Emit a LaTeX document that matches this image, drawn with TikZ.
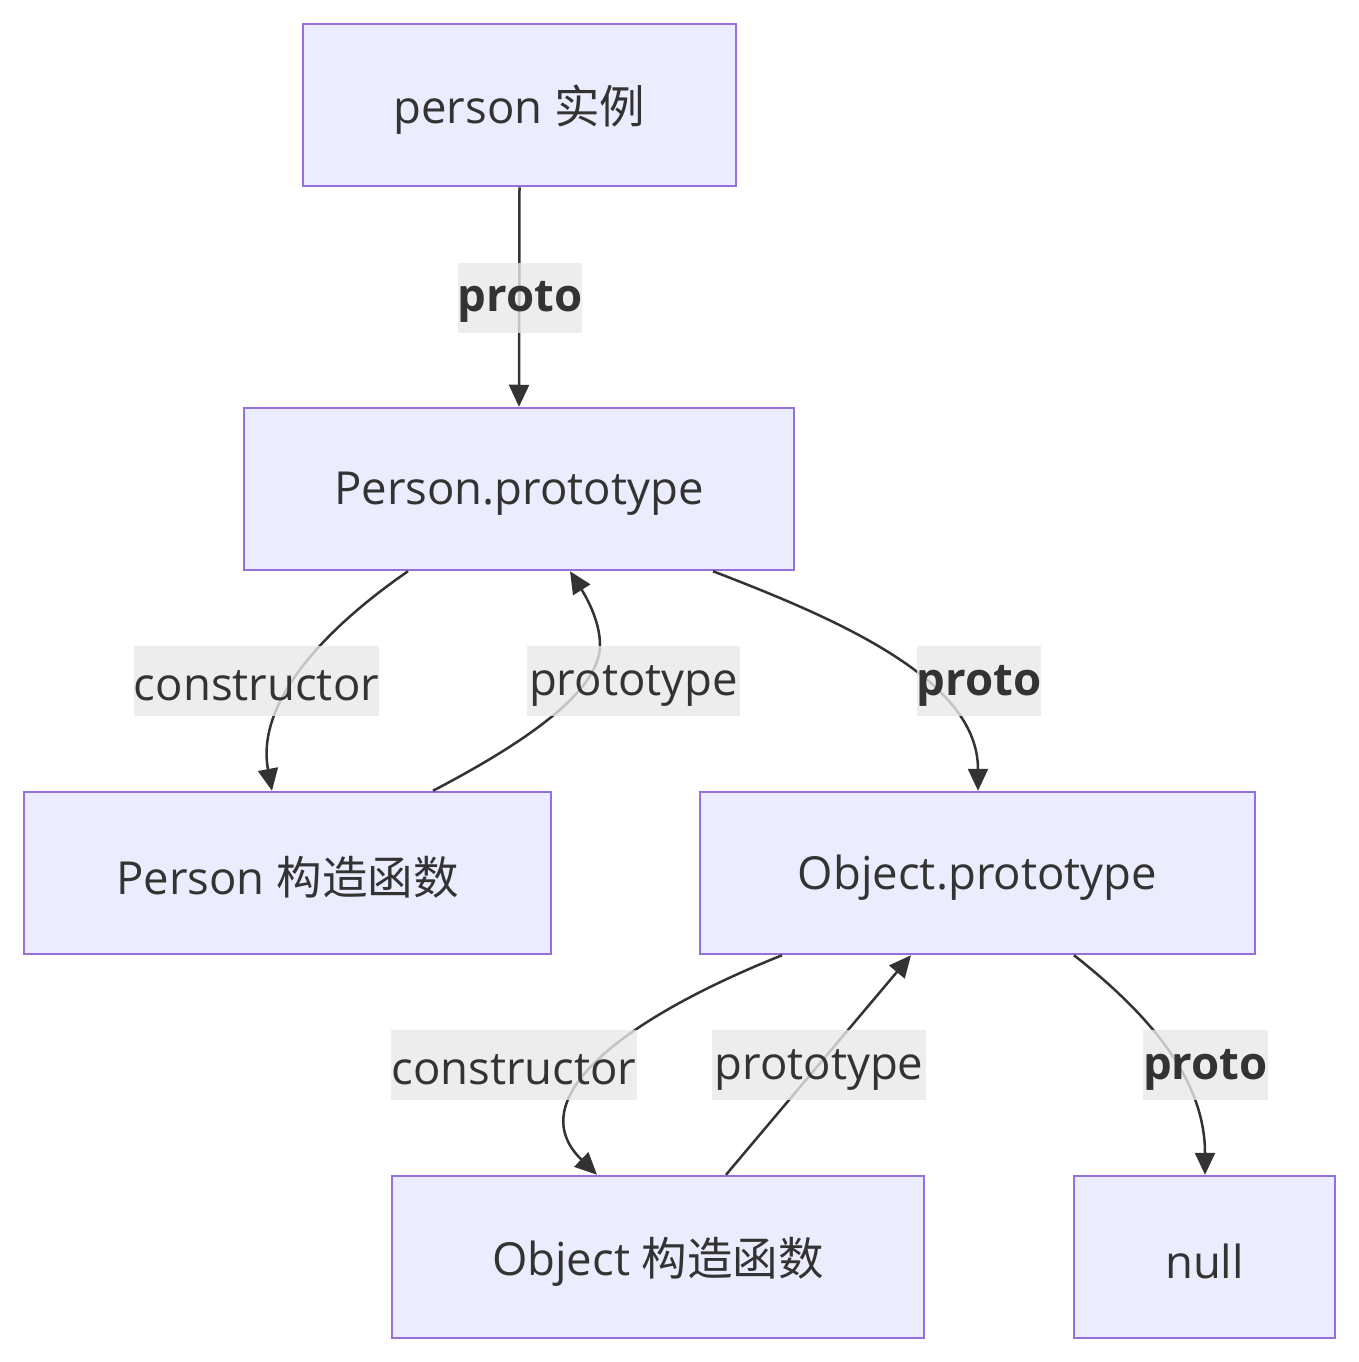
\documentclass[tikz,border=0pt]{standalone}
\usepackage{fontspec}
\setmainfont{Open Sans}
\newfontfamily\cjk{Noto Sans CJK SC}
\usetikzlibrary{arrows.meta}
\definecolor{nodefill}{HTML}{ECECFF}
\definecolor{nodedraw}{HTML}{9370DB}
\definecolor{txt}{HTML}{333333}
\definecolor{lblbg}{HTML}{E8E8E8}
\newcommand{\lo}[1]{\raisebox{-4.5pt}[\height][\depth]{#1}}
\begin{document}
\begin{tikzpicture}[x=1pt,y=-1pt,
  box/.style={draw=nodedraw,fill=nodefill,line width=2.5pt,minimum height=162pt,inner sep=0pt,text=txt,font=\fontsize{45.5}{54}\selectfont},
  lbl/.style={fill=lblbg,fill opacity=0.8,text opacity=1,text=txt,minimum height=70pt,inner sep=0pt,font=\fontsize{45.5}{54}\selectfont},
  edge/.style={draw=txt,line width=2.5pt,-{Triangle[length=22pt,width=20pt]}}]
\useasboundingbox (0,0) rectangle (1359,1362);
% nodes
\node[box,minimum width=433pt] (pi) at (519.5,105) {\lo{person {\cjk 实例}}};
\node[box,minimum width=550pt] (pp) at (519,489) {\lo{Person.prototype}};
\node[box,minimum width=527pt] (pc) at (287.5,873) {\lo{Person {\cjk 构造函数}}};
\node[box,minimum width=555pt] (op) at (977.5,873) {\lo{Object.prototype}};
\node[box,minimum width=532pt] (oc) at (658,1257) {\lo{Object {\cjk 构造函数}}};
\node[box,minimum width=261pt] (nl) at (1204.5,1257) {\lo{null}};
% edges
\draw[edge] (pi.south) -- (pp.north);
\draw[edge] ([xshift=-111pt]pp.south) .. controls (330,625) and (255,700) .. ([xshift=-15.5pt]pc.north);
\draw[edge] ([xshift=145.5pt]pc.north) .. controls (530,740) and (600,690) .. (600,645) .. controls (600,620) and (585,595) .. ([xshift=51pt]pp.south);
\draw[edge] ([xshift=194pt]pp.south) .. controls (840,620) and (978,680) .. ([xshift=0.5pt]op.north);
\draw[edge] ([xshift=-195.5pt]op.south) .. controls (620,1020) and (520,1100) .. ([xshift=-61pt]oc.north);
\draw[edge] ([xshift=68pt]oc.north) -- ([xshift=-66.5pt]op.south);
\draw[edge] ([xshift=96.5pt]op.south) .. controls (1150,1015) and (1205,1080) .. ([xshift=0.5pt]nl.north);
% labels
\node[lbl,minimum width=122pt,font=\fontsize{45.5}{54}\selectfont\bfseries] (l1) at (520,297.5) {\lo{proto}};
\node[lbl,minimum width=245pt] (l2) at (256.5,681) {\lo{constructor}};
\node[lbl,minimum width=213pt] (l3) at (633.5,681) {\lo{prototype}};
\node[lbl,minimum width=122pt,font=\fontsize{45.5}{54}\selectfont\bfseries] (l4) at (979,681) {\lo{proto}};
\node[lbl,minimum width=246pt] (l5) at (514,1065) {\lo{constructor}};
\node[lbl,minimum width=214pt] (l6) at (819,1065) {\lo{prototype}};
\node[lbl,minimum width=123pt,font=\fontsize{45.5}{54}\selectfont\bfseries] (l7) at (1205.5,1065) {\lo{proto}};
\end{tikzpicture}
\end{document}
